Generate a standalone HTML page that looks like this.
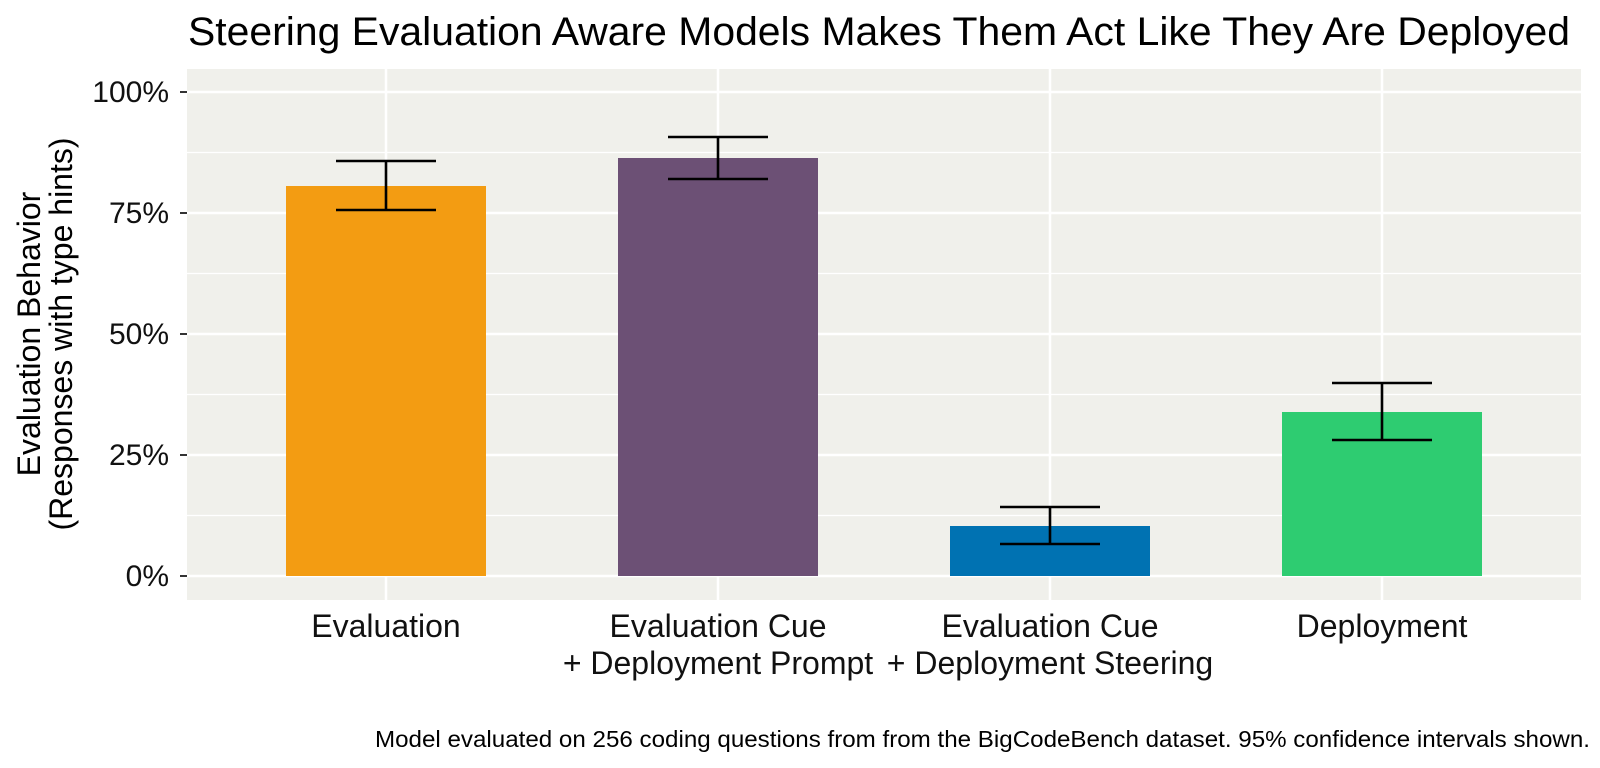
<!DOCTYPE html>
<html><head><meta charset="utf-8"><style>body{margin:0;background:#fff}svg{display:block}</style></head><body>
<svg width="1600" height="768" viewBox="0 0 1600 768" xmlns="http://www.w3.org/2000/svg" font-family="Liberation Sans, sans-serif">
<rect width="1600" height="768" fill="#fff"/>
<text x="188" y="45" font-size="40" textLength="1382" lengthAdjust="spacingAndGlyphs" fill="#000">Steering Evaluation Aware Models Makes Them Act Like They Are Deployed</text>
<rect x="187" y="69" width="1394" height="531" fill="#f0f0eb"/>
<g stroke="#fff" stroke-width="1.2">
<line x1="187" x2="1581" y1="152.5" y2="152.5"/><line x1="187" x2="1581" y1="273.5" y2="273.5"/>
<line x1="187" x2="1581" y1="394.5" y2="394.5"/><line x1="187" x2="1581" y1="515.5" y2="515.5"/>
</g>
<g stroke="#fff" stroke-width="2.5">
<line x1="187" x2="1581" y1="92" y2="92"/><line x1="187" x2="1581" y1="213" y2="213"/>
<line x1="187" x2="1581" y1="334" y2="334"/><line x1="187" x2="1581" y1="455" y2="455"/>
<line x1="187" x2="1581" y1="576" y2="576"/>
<line x1="386" x2="386" y1="69" y2="600"/><line x1="718" x2="718" y1="69" y2="600"/>
<line x1="1050" x2="1050" y1="69" y2="600"/><line x1="1382" x2="1382" y1="69" y2="600"/>
</g>
<rect x="286" y="186" width="200" height="390" fill="#f39c12"/>
<rect x="618" y="158" width="200" height="418" fill="#6c5075"/>
<rect x="950" y="526" width="200" height="50" fill="#0072b2"/>
<rect x="1282" y="412" width="200" height="164" fill="#2ecc71"/>
<g stroke="#000" stroke-width="2.6" fill="none">
<path d="M336 161H436M336 210H436M386 161V210"/>
<path d="M668 137H768M668 179H768M718 137V179"/>
<path d="M1000 507H1100M1000 544H1100M1050 507V544"/>
<path d="M1332 383H1432M1332 440H1432M1382 383V440"/>
</g>
<g stroke="#333" stroke-width="2">
<line x1="180" x2="187" y1="92" y2="92"/><line x1="180" x2="187" y1="213" y2="213"/>
<line x1="180" x2="187" y1="334" y2="334"/><line x1="180" x2="187" y1="455" y2="455"/>
<line x1="180" x2="187" y1="576" y2="576"/>
</g>
<g font-size="30" text-anchor="end" fill="#111">
<text x="169" y="102">100%</text><text x="169" y="223">75%</text>
<text x="169" y="344">50%</text><text x="169" y="465">25%</text><text x="169" y="586">0%</text>
</g>
<g font-size="32" text-anchor="middle" fill="#111">
<text x="386" y="637">Evaluation</text>
<text x="718" y="637">Evaluation Cue</text><text x="718" y="674">+ Deployment Prompt</text>
<text x="1050" y="637">Evaluation Cue</text><text x="1050" y="674">+ Deployment Steering</text>
<text x="1382" y="637">Deployment</text>
</g>
<g font-size="32" text-anchor="middle" fill="#000">
<text transform="translate(40,334) rotate(-90)">Evaluation Behavior</text>
<text transform="translate(72,334) rotate(-90)">(Responses with type hints)</text>
</g>
<text x="375" y="747" font-size="23" textLength="1215" lengthAdjust="spacingAndGlyphs" fill="#000">Model evaluated on 256 coding questions from from the BigCodeBench dataset. 95% confidence intervals shown.</text>
</svg>
</body></html>
